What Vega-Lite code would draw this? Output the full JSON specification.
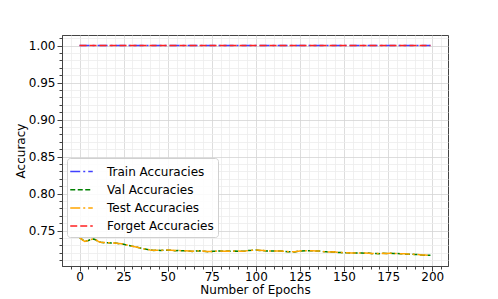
{
  "$schema": "https://vega.github.io/schema/vega-lite/v6.json",
  "width": 386,
  "height": 231,
  "autosize": {"type": "none"},
  "padding": {"left": 62, "top": 35, "right": 50, "bottom": 33},
  "background": "white",
  "config": {
    "font": "DejaVu Sans",
    "view": {"stroke": "#444444", "strokeWidth": 1},
    "axis": {
      "labelFontSize": 12,
      "titleFontSize": 12,
      "titleFontWeight": "normal",
      "labelColor": "#000000",
      "titleColor": "#000000",
      "domainColor": "#444444",
      "tickColor": "#444444",
      "gridWidth": 0.8
    },
    "legend": {
      "orient": "none",
      "legendX": 5,
      "legendY": 123,
      "fillColor": "rgba(255,255,255,0.85)",
      "strokeColor": "#d0d0d0",
      "cornerRadius": 3,
      "padding": 4,
      "symbolType": "M-1.3,0H1.3",
      "symbolSize": 300,
      "symbolOffset": 1,
      "symbolStrokeWidth": 1.5,
      "labelFontSize": 12,
      "labelColor": "#000000",
      "labelOffset": 16,
      "rowPadding": 2.2
    }
  },
  "data": {
    "values": [
      {"epoch": 0, "train": 1.0, "val": 0.741, "test": 0.741, "forget": 1.0},
      {"epoch": 1, "train": 1.0, "val": 0.7388, "test": 0.739, "forget": 1.0},
      {"epoch": 2, "train": 1.0, "val": 0.7372, "test": 0.737, "forget": 1.0},
      {"epoch": 3, "train": 1.0, "val": 0.7352, "test": 0.7355, "forget": 1.0},
      {"epoch": 4, "train": 1.0, "val": 0.7362, "test": 0.736, "forget": 1.0},
      {"epoch": 5, "train": 1.0, "val": 0.7368, "test": 0.7368, "forget": 1.0},
      {"epoch": 6, "train": 1.0, "val": 0.7378, "test": 0.7375, "forget": 1.0},
      {"epoch": 7, "train": 1.0, "val": 0.7385, "test": 0.7385, "forget": 1.0},
      {"epoch": 8, "train": 1.0, "val": 0.7386, "test": 0.7388, "forget": 1.0},
      {"epoch": 9, "train": 1.0, "val": 0.7378, "test": 0.738, "forget": 1.0},
      {"epoch": 10, "train": 1.0, "val": 0.7362, "test": 0.7365, "forget": 1.0},
      {"epoch": 11, "train": 1.0, "val": 0.735, "test": 0.735, "forget": 1.0},
      {"epoch": 12, "train": 1.0, "val": 0.7344, "test": 0.7345, "forget": 1.0},
      {"epoch": 14, "train": 1.0, "val": 0.7338, "test": 0.734, "forget": 1.0},
      {"epoch": 16, "train": 1.0, "val": 0.7337, "test": 0.7336, "forget": 1.0},
      {"epoch": 18, "train": 1.0, "val": 0.7333, "test": 0.7335, "forget": 1.0},
      {"epoch": 20, "train": 1.0, "val": 0.7334, "test": 0.7333, "forget": 1.0},
      {"epoch": 22, "train": 1.0, "val": 0.7326, "test": 0.7328, "forget": 1.0},
      {"epoch": 24, "train": 1.0, "val": 0.7322, "test": 0.7322, "forget": 1.0},
      {"epoch": 26, "train": 1.0, "val": 0.731, "test": 0.7312, "forget": 1.0},
      {"epoch": 28, "train": 1.0, "val": 0.7299, "test": 0.7298, "forget": 1.0},
      {"epoch": 30, "train": 1.0, "val": 0.7289, "test": 0.729, "forget": 1.0},
      {"epoch": 32, "train": 1.0, "val": 0.7282, "test": 0.728, "forget": 1.0},
      {"epoch": 34, "train": 1.0, "val": 0.7268, "test": 0.727, "forget": 1.0},
      {"epoch": 36, "train": 1.0, "val": 0.7259, "test": 0.7258, "forget": 1.0},
      {"epoch": 38, "train": 1.0, "val": 0.7248, "test": 0.725, "forget": 1.0},
      {"epoch": 40, "train": 1.0, "val": 0.7241, "test": 0.724, "forget": 1.0},
      {"epoch": 42, "train": 1.0, "val": 0.7233, "test": 0.7235, "forget": 1.0},
      {"epoch": 44, "train": 1.0, "val": 0.7237, "test": 0.7236, "forget": 1.0},
      {"epoch": 46, "train": 1.0, "val": 0.7232, "test": 0.7234, "forget": 1.0},
      {"epoch": 48, "train": 1.0, "val": 0.7238, "test": 0.7237, "forget": 1.0},
      {"epoch": 50, "train": 1.0, "val": 0.7236, "test": 0.7238, "forget": 1.0},
      {"epoch": 52, "train": 1.0, "val": 0.7237, "test": 0.7236, "forget": 1.0},
      {"epoch": 54, "train": 1.0, "val": 0.723, "test": 0.7232, "forget": 1.0},
      {"epoch": 56, "train": 1.0, "val": 0.7233, "test": 0.7232, "forget": 1.0},
      {"epoch": 58, "train": 1.0, "val": 0.7228, "test": 0.723, "forget": 1.0},
      {"epoch": 60, "train": 1.0, "val": 0.7229, "test": 0.7228, "forget": 1.0},
      {"epoch": 62, "train": 1.0, "val": 0.7225, "test": 0.7227, "forget": 1.0},
      {"epoch": 64, "train": 1.0, "val": 0.7219, "test": 0.7222, "forget": 1.0},
      {"epoch": 66, "train": 1.0, "val": 0.7227, "test": 0.7226, "forget": 1.0},
      {"epoch": 68, "train": 1.0, "val": 0.7228, "test": 0.7229, "forget": 1.0},
      {"epoch": 70, "train": 1.0, "val": 0.7223, "test": 0.7225, "forget": 1.0},
      {"epoch": 72, "train": 1.0, "val": 0.7218, "test": 0.722, "forget": 1.0},
      {"epoch": 74, "train": 1.0, "val": 0.7216, "test": 0.7218, "forget": 1.0},
      {"epoch": 76, "train": 1.0, "val": 0.7222, "test": 0.7221, "forget": 1.0},
      {"epoch": 78, "train": 1.0, "val": 0.7224, "test": 0.7225, "forget": 1.0},
      {"epoch": 80, "train": 1.0, "val": 0.7227, "test": 0.7226, "forget": 1.0},
      {"epoch": 82, "train": 1.0, "val": 0.722, "test": 0.7222, "forget": 1.0},
      {"epoch": 84, "train": 1.0, "val": 0.7225, "test": 0.7224, "forget": 1.0},
      {"epoch": 86, "train": 1.0, "val": 0.7221, "test": 0.7222, "forget": 1.0},
      {"epoch": 88, "train": 1.0, "val": 0.7226, "test": 0.7225, "forget": 1.0},
      {"epoch": 90, "train": 1.0, "val": 0.7222, "test": 0.7224, "forget": 1.0},
      {"epoch": 92, "train": 1.0, "val": 0.7223, "test": 0.7222, "forget": 1.0},
      {"epoch": 94, "train": 1.0, "val": 0.7227, "test": 0.7226, "forget": 1.0},
      {"epoch": 96, "train": 1.0, "val": 0.7233, "test": 0.7232, "forget": 1.0},
      {"epoch": 98, "train": 1.0, "val": 0.7235, "test": 0.7236, "forget": 1.0},
      {"epoch": 100, "train": 1.0, "val": 0.7239, "test": 0.7238, "forget": 1.0},
      {"epoch": 102, "train": 1.0, "val": 0.7233, "test": 0.7235, "forget": 1.0},
      {"epoch": 104, "train": 1.0, "val": 0.7233, "test": 0.7232, "forget": 1.0},
      {"epoch": 106, "train": 1.0, "val": 0.7226, "test": 0.7228, "forget": 1.0},
      {"epoch": 108, "train": 1.0, "val": 0.7226, "test": 0.7225, "forget": 1.0},
      {"epoch": 110, "train": 1.0, "val": 0.7225, "test": 0.7227, "forget": 1.0},
      {"epoch": 112, "train": 1.0, "val": 0.7225, "test": 0.7224, "forget": 1.0},
      {"epoch": 114, "train": 1.0, "val": 0.7224, "test": 0.7226, "forget": 1.0},
      {"epoch": 116, "train": 1.0, "val": 0.7223, "test": 0.7222, "forget": 1.0},
      {"epoch": 118, "train": 1.0, "val": 0.7216, "test": 0.7218, "forget": 1.0},
      {"epoch": 120, "train": 1.0, "val": 0.7215, "test": 0.7214, "forget": 1.0},
      {"epoch": 122, "train": 1.0, "val": 0.7213, "test": 0.7215, "forget": 1.0},
      {"epoch": 124, "train": 1.0, "val": 0.7223, "test": 0.7222, "forget": 1.0},
      {"epoch": 126, "train": 1.0, "val": 0.7226, "test": 0.7228, "forget": 1.0},
      {"epoch": 128, "train": 1.0, "val": 0.723, "test": 0.7229, "forget": 1.0},
      {"epoch": 130, "train": 1.0, "val": 0.7229, "test": 0.7231, "forget": 1.0},
      {"epoch": 132, "train": 1.0, "val": 0.723, "test": 0.7229, "forget": 1.0},
      {"epoch": 134, "train": 1.0, "val": 0.7225, "test": 0.7227, "forget": 1.0},
      {"epoch": 136, "train": 1.0, "val": 0.7226, "test": 0.7225, "forget": 1.0},
      {"epoch": 138, "train": 1.0, "val": 0.7218, "test": 0.722, "forget": 1.0},
      {"epoch": 140, "train": 1.0, "val": 0.7215, "test": 0.7214, "forget": 1.0},
      {"epoch": 142, "train": 1.0, "val": 0.7211, "test": 0.7213, "forget": 1.0},
      {"epoch": 144, "train": 1.0, "val": 0.7216, "test": 0.7215, "forget": 1.0},
      {"epoch": 146, "train": 1.0, "val": 0.7206, "test": 0.7208, "forget": 1.0},
      {"epoch": 148, "train": 1.0, "val": 0.7206, "test": 0.7205, "forget": 1.0},
      {"epoch": 150, "train": 1.0, "val": 0.7202, "test": 0.7204, "forget": 1.0},
      {"epoch": 152, "train": 1.0, "val": 0.7203, "test": 0.7202, "forget": 1.0},
      {"epoch": 154, "train": 1.0, "val": 0.7197, "test": 0.7199, "forget": 1.0},
      {"epoch": 156, "train": 1.0, "val": 0.7199, "test": 0.7198, "forget": 1.0},
      {"epoch": 158, "train": 1.0, "val": 0.7198, "test": 0.72, "forget": 1.0},
      {"epoch": 160, "train": 1.0, "val": 0.72, "test": 0.7199, "forget": 1.0},
      {"epoch": 162, "train": 1.0, "val": 0.7195, "test": 0.7197, "forget": 1.0},
      {"epoch": 164, "train": 1.0, "val": 0.7197, "test": 0.7196, "forget": 1.0},
      {"epoch": 166, "train": 1.0, "val": 0.719, "test": 0.7192, "forget": 1.0},
      {"epoch": 168, "train": 1.0, "val": 0.7191, "test": 0.719, "forget": 1.0},
      {"epoch": 170, "train": 1.0, "val": 0.719, "test": 0.7192, "forget": 1.0},
      {"epoch": 172, "train": 1.0, "val": 0.7195, "test": 0.7194, "forget": 1.0},
      {"epoch": 174, "train": 1.0, "val": 0.7191, "test": 0.7193, "forget": 1.0},
      {"epoch": 176, "train": 1.0, "val": 0.7196, "test": 0.7195, "forget": 1.0},
      {"epoch": 178, "train": 1.0, "val": 0.7191, "test": 0.7193, "forget": 1.0},
      {"epoch": 180, "train": 1.0, "val": 0.7191, "test": 0.719, "forget": 1.0},
      {"epoch": 182, "train": 1.0, "val": 0.7187, "test": 0.7189, "forget": 1.0},
      {"epoch": 184, "train": 1.0, "val": 0.7188, "test": 0.7187, "forget": 1.0},
      {"epoch": 186, "train": 1.0, "val": 0.7183, "test": 0.7185, "forget": 1.0},
      {"epoch": 188, "train": 1.0, "val": 0.7183, "test": 0.7182, "forget": 1.0},
      {"epoch": 190, "train": 1.0, "val": 0.7178, "test": 0.718, "forget": 1.0},
      {"epoch": 192, "train": 1.0, "val": 0.7178, "test": 0.7177, "forget": 1.0},
      {"epoch": 194, "train": 1.0, "val": 0.717, "test": 0.7172, "forget": 1.0},
      {"epoch": 196, "train": 1.0, "val": 0.7168, "test": 0.717, "forget": 1.0},
      {"epoch": 198, "train": 1.0, "val": 0.7167, "test": 0.7166, "forget": 1.0},
      {"epoch": 199, "train": 1.0, "val": 0.7168, "test": 0.7167, "forget": 1.0}
    ]
  },
  "transform": [
    {"fold": ["train", "val", "test", "forget"], "as": ["series", "acc"]}
  ],
  "encoding": {
    "x": {
      "field": "epoch",
      "type": "quantitative",
      "title": "Number of Epochs",
      "scale": {"domain": [-9.95, 208.95], "nice": false, "zero": false},
      "axis": {
        "values": [-5, 0, 5, 10, 15, 20, 25, 30, 35, 40, 45, 50, 55, 60, 65, 70, 75, 80, 85, 90, 95, 100, 105, 110, 115, 120, 125, 130, 135, 140, 145, 150, 155, 160, 165, 170, 175, 180, 185, 190, 195, 200, 205],
        "format": "d",
        "labelExpr": "datum.value % 25 === 0 ? datum.label : ''",
        "grid": true,
        "gridColor": {"condition": {"test": "datum.value % 25 === 0", "value": "#d4d4d4"}, "value": "#ececec"},
        "tickSize": {"condition": {"test": "datum.value % 25 === 0", "value": 5}, "value": 3},
        "labelPadding": 0,
        "titlePadding": 2,
        "labelFlush": false,
        "labelOverlap": false
      }
    },
    "y": {
      "field": "acc",
      "type": "quantitative",
      "title": "Accuracy",
      "scale": {"domain": [0.7023, 1.0142], "nice": false, "zero": false},
      "axis": {
        "values": [0.71, 0.72, 0.73, 0.74, 0.75, 0.76, 0.77, 0.78, 0.79, 0.8, 0.81, 0.82, 0.83, 0.84, 0.85, 0.86, 0.87, 0.88, 0.89, 0.9, 0.91, 0.92, 0.93, 0.94, 0.95, 0.96, 0.97, 0.98, 0.99, 1.0, 1.01],
        "format": ".2f",
        "labelExpr": "abs(datum.value * 20 - round(datum.value * 20)) < 0.001 ? datum.label : ''",
        "grid": true,
        "gridColor": {"condition": {"test": "abs(datum.value * 20 - round(datum.value * 20)) < 0.001", "value": "#d4d4d4"}, "value": "#ececec"},
        "tickSize": {"condition": {"test": "abs(datum.value * 20 - round(datum.value * 20)) < 0.001", "value": 5}, "value": 3},
        "labelPadding": 2,
        "titlePadding": 1,
        "labelOverlap": false,
        "labelFlush": false
      }
    },
    "color": {
      "field": "series",
      "type": "nominal",
      "title": null,
      "scale": {"domain": ["train", "val", "test", "forget"], "range": ["#4040ff", "#008000", "#ffa500", "#ff2020"]},
      "legend": {"labelExpr": "{'train': 'Train Accuracies', 'val': 'Val Accuracies', 'test': 'Test Accuracies', 'forget': 'Forget Accuracies'}[datum.value]"}
    },
    "strokeDash": {
      "field": "series",
      "type": "nominal",
      "title": null,
      "scale": {"domain": ["train", "val", "test", "forget"], "range": [[10, 3, 2, 3], [5, 2.5], [10, 3, 2, 3], [7, 3]]},
      "legend": {"labelExpr": "{'train': 'Train Accuracies', 'val': 'Val Accuracies', 'test': 'Test Accuracies', 'forget': 'Forget Accuracies'}[datum.value]"}
    }
  },
  "layer": [
    {"transform": [{"filter": "datum.series === 'train'"}], "mark": {"type": "line", "strokeWidth": 1.5}},
    {"transform": [{"filter": "datum.series === 'val'"}], "mark": {"type": "line", "strokeWidth": 1.5}},
    {"transform": [{"filter": "datum.series === 'test'"}], "mark": {"type": "line", "strokeWidth": 1.5}},
    {"transform": [{"filter": "datum.series === 'forget'"}], "mark": {"type": "line", "strokeWidth": 1.5}}
  ]
}
